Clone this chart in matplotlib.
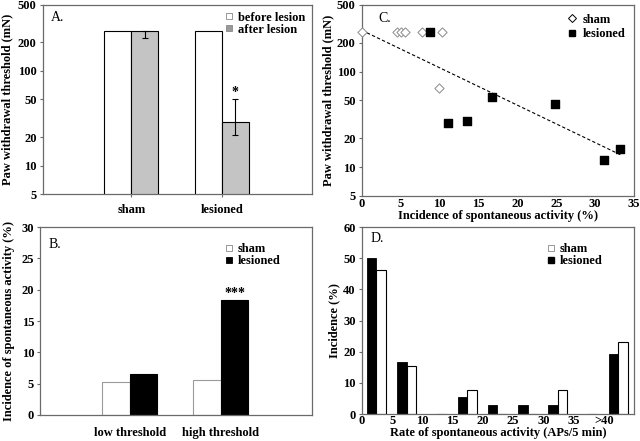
import numpy as np
import matplotlib
matplotlib.use("Agg")
import matplotlib.pyplot as plt
from matplotlib.lines import Line2D

plt.rcParams['font.family'] = ['Liberation Serif', 'DejaVu Serif']
plt.rcParams['font.weight'] = 'bold'
plt.rcParams['axes.labelweight'] = 'bold'

# --- panel A: paw withdrawal threshold (mN) ---
a_groups = ["sham", "lesioned"]
a_before = [262, 262]
a_after = [262, 29]
a_after_err_lo = [38, 8]
a_after_err_hi = [0, 21]
a_yticks = [5, 10, 20, 50, 100, 200, 500]

# --- panel B: incidence of spontaneous activity (%) ---
b_groups = ["low threshold", "high threshold"]
b_sham = [5.2, 5.6]
b_lesioned = [6.6, 18.4]

# --- panel C: threshold vs incidence ---
c_sham_x = [0, 4.5, 5.0, 5.5, 7.7, 10.3, 9.9]
c_sham_y = [260, 260, 260, 260, 260, 260, 67]
c_les_x = [8.7, 11.1, 13.5, 16.7, 24.9, 31.2, 33.2]
c_les_y = [259, 28.8, 30.4, 54.6, 46, 11.9, 15.6]
trend_x = [0, 33.3]
trend_y = [270, 13.4]

# --- panel D: rate of spontaneous activity histogram ---
d_bins = [0, 5, 10, 15, 20, 25, 30, 35, 40]
d_ticklabels = ["0", "5", "10", "15", "20", "25", "30", "35", ">40"]
d_lesioned = [50.0, 16.7, 0, 5.6, 2.8, 2.8, 2.8, 0, 19.4]
d_sham = [46.2, 15.4, 0, 7.7, 0, 0, 7.7, 0, 23.1]

SPINE = '#6a6a6a'
TFS = 9
LFS = 9
GFS = 9


def style(ax):
    for s in ax.spines.values():
        s.set_color(SPINE)
        s.set_linewidth(0.9)
    ax.tick_params(direction='out', length=2.5, width=0.8, color=SPINE,
                   labelsize=TFS, pad=2)
    for lab in ax.get_xticklabels() + ax.get_yticklabels():
        lab.set_fontweight('bold')


fig = plt.figure(figsize=(6.4, 4.41), dpi=100)
axA = fig.add_axes([0.067, 0.560, 0.4205, 0.429])
axC = fig.add_axes([0.5656, 0.556, 0.425, 0.433])
axB = fig.add_axes([0.063, 0.059, 0.4245, 0.426])
axD = fig.add_axes([0.5656, 0.061, 0.425, 0.424])

# A
xa = np.arange(len(a_groups))
w = 0.3
axA.bar(xa - w / 2, a_before, w, bottom=0.1, color='white', edgecolor='black', linewidth=0.8)
axA.bar(xa + w / 2, a_after, w, bottom=0.1, color='#c4c4c4', edgecolor='black', linewidth=0.8)
axA.errorbar(xa + w / 2, a_after, yerr=[a_after_err_lo, a_after_err_hi], fmt='none',
             ecolor='black', elinewidth=0.8, capsize=2.5, capthick=0.8)
axA.text(1 + w / 2, 50, '*', ha='center', va='bottom', fontsize=10)
axA.set_yscale('log')
axA.set_ylim(5, 500)
axA.set_yticks(a_yticks)
axA.set_yticklabels([str(t) for t in a_yticks])
axA.minorticks_off()
axA.set_xlim(-0.98, 2.0)
axA.set_xticks(xa)
axA.set_xticklabels(a_groups)
axA.set_ylabel("Paw withdrawal threshold (mN)", fontsize=LFS, labelpad=3)
style(axA)
axA.tick_params(axis='x', pad=5)
axA.text(0.03, 0.965, "A.", transform=axA.transAxes, fontsize=10, weight='normal', va='top')
hA = [Line2D([], [], ls='none', marker='s', ms=4.5, mfc='white', mec='#888888', mew=0.6),
      Line2D([], [], ls='none', marker='s', ms=4.5, mfc='#999999', mec='#888888', mew=0.6)]
axA.legend(hA, ["before lesion", "after lesion"], loc='upper right', frameon=False,
           fontsize=GFS, handletextpad=0.2, labelspacing=0.0, borderaxespad=0.15,
           handlelength=1.0)

# B
xb = np.arange(len(b_groups))
axB.bar(xb - w / 2, b_sham, w, color='white', edgecolor='#9a9a9a', linewidth=0.8)
axB.bar(xb + w / 2, b_lesioned, w, color='black', edgecolor='black', linewidth=0.8)
axB.text(1 + w / 2, b_lesioned[1] - 0.1, '***', ha='center', va='bottom', fontsize=10)
axB.set_ylim(0, 30)
axB.set_yticks(range(0, 31, 5))
axB.set_xlim(-0.98, 2.0)
axB.set_xticks(xb)
axB.set_xticklabels(b_groups)
axB.set_ylabel("Incidence of spontaneous activity (%)", fontsize=LFS, labelpad=5)
style(axB)
axB.tick_params(axis='x', length=0, pad=9)
axB.text(0.03, 0.94, "B.", transform=axB.transAxes, fontsize=10, weight='normal', va='top')
hB = [Line2D([], [], ls='none', marker='s', ms=4.5, mfc='white', mec='#888888', mew=0.6),
      Line2D([], [], ls='none', marker='s', ms=4.5, mfc='black', mec='black', mew=0.6)]
axB.legend(hB, ["sham", "lesioned"], loc='upper right', frameon=False, fontsize=GFS,
           handletextpad=0.2, labelspacing=0.0, borderaxespad=0.6, handlelength=1.0,
           bbox_to_anchor=(0.93, 0.98))

# C
axC.plot(trend_x, trend_y, ls=(0, (3, 2)), color='black', lw=0.8)
axC.scatter(c_sham_x, c_sham_y, marker='D', s=22, facecolor='white', edgecolor='#8a8a8a',
            linewidth=0.7, zorder=3, clip_on=False)
axC.scatter(c_les_x, c_les_y, marker='s', s=26, facecolor='black', edgecolor='black',
            zorder=3)
axC.set_yscale('log')
axC.set_ylim(5, 500)
axC.set_yticks(a_yticks)
axC.set_yticklabels([str(t) for t in a_yticks])
axC.minorticks_off()
axC.set_xlim(0, 35)
axC.set_xticks(range(0, 36, 5))
axC.set_xlabel("Incidence of spontaneous activity (%)", fontsize=LFS, labelpad=0)
axC.set_ylabel("Paw withdrawal threshold (mN)", fontsize=LFS, labelpad=2)
style(axC)
axC.tick_params(axis='x', length=0, pad=1.5)
axC.text(0.06, 0.965, "C.", transform=axC.transAxes, fontsize=10, weight='normal', va='top')
hC = [Line2D([], [], ls='none', marker='D', ms=4.5, mfc='white', mec='black', mew=0.7),
      Line2D([], [], ls='none', marker='s', ms=4.5, mfc='black', mec='black')]
axC.legend(hC, ["sham", "lesioned"], loc='upper right', frameon=False, fontsize=GFS,
           handletextpad=0.3, labelspacing=0.2, borderaxespad=0.3, handlelength=1.0)

# D
xd = np.array(d_bins) + 2.4
bw = 1.55
axD.bar(xd - bw / 2, d_lesioned, bw, color='black', edgecolor='black', linewidth=0.6)
axD.bar(xd + bw / 2, d_sham, bw, color='white', edgecolor='black', linewidth=0.8)
axD.set_ylim(0, 60)
axD.set_yticks(range(0, 61, 10))
axD.set_xlim(0, 45)
axD.set_xticks(d_bins)
axD.set_xticklabels(d_ticklabels)
axD.set_xlabel("Rate of spontaneous activity (APs/5 min)", fontsize=LFS, labelpad=-0.5)
axD.set_ylabel("Incidence (%)", fontsize=LFS, labelpad=2)
style(axD)
axD.tick_params(axis='x', length=0, pad=1)
axD.text(0.03, 0.975, "D.", transform=axD.transAxes, fontsize=10, weight='normal', va='top')
hD = [Line2D([], [], ls='none', marker='s', ms=4.5, mfc='white', mec='#888888', mew=0.6),
      Line2D([], [], ls='none', marker='s', ms=4.5, mfc='black', mec='black')]
axD.legend(hD, ["sham", "lesioned"], loc='upper right', frameon=False, fontsize=GFS,
           handletextpad=0.2, labelspacing=0.0, borderaxespad=0.6, handlelength=1.0,
           bbox_to_anchor=(0.93, 0.98))

fig.savefig("out.png", dpi=100)
